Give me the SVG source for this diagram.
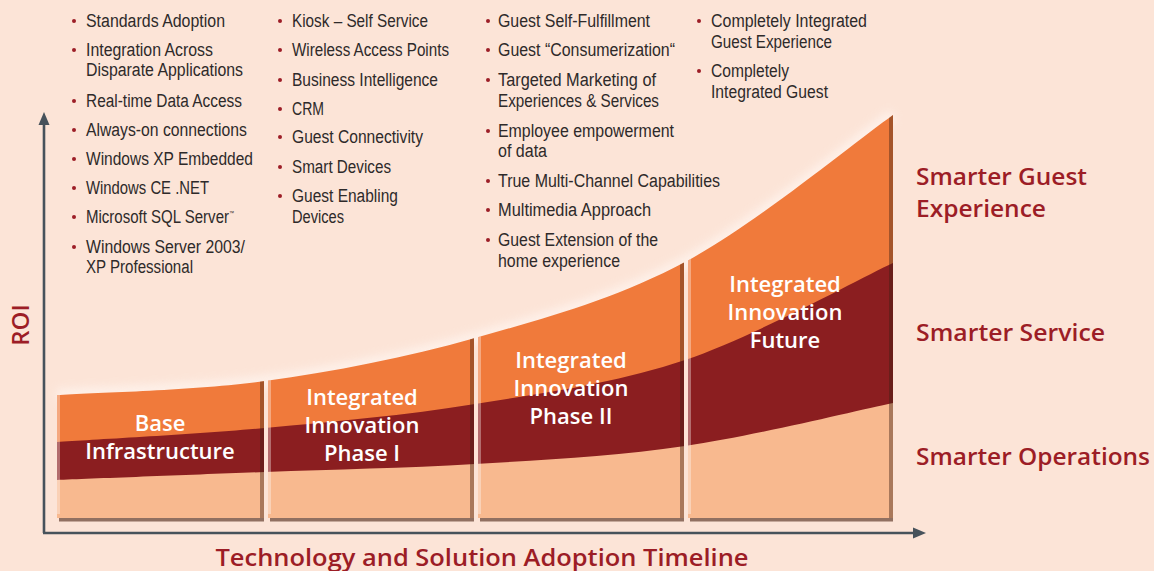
<svg xmlns="http://www.w3.org/2000/svg" width="1154" height="571" viewBox="0 0 1154 571">
  <style>
    .li { font-family: "Liberation Sans", Arial, sans-serif; font-size: 18px; fill: #2e2a2a; }
    .dot { fill: #9c1d26; }
    .phase { font-family: "Open Sans", "Liberation Sans", sans-serif; font-size: 22px; font-weight: 600; fill: #ffffff; text-anchor: middle; }
    .lvl { font-family: "Open Sans", "Liberation Sans", sans-serif; font-size: 24px; font-weight: 600; fill: #9c1d26; }
    .axis { stroke: #47525b; stroke-width: 2.6; fill: none; }
    .head { fill: #47525b; }
    .orange { fill: #f07a3b; }
    .dark { fill: #8b1e20; }
    .light { fill: #f8b98f; }
    .shade { fill: #3c1e12; opacity: 0.42; }
    .hl { fill: #ffffff; opacity: 0.35; }
  </style>
  <defs>
    <!-- Top edge of the ROI curve -->
    <path id="topCurve" d="M57,395 C91.7,392.7 195.3,390.5 265,381 C334.7,371.5 405,357.8 475,338 C545,318.2 615.3,299.2 685,262 C754.7,224.8 858.3,139.5 893,115"/>
    <clipPath id="cols">
      <rect x="57" y="100" width="207" height="418"/>
      <rect x="268" y="100" width="206" height="418"/>
      <rect x="478" y="100" width="206" height="418"/>
      <rect x="688" y="100" width="205" height="418"/>
    </clipPath>
    <clipPath id="area">
      <path d="M57,395 C91.7,392.7 195.3,390.5 265,381 C334.7,371.5 405,357.8 475,338 C545,318.2 615.3,299.2 685,262 C754.7,224.8 858.3,139.5 893,115 L893,523 L57,523 Z"/>
    </clipPath>
    <filter id="soft" x="-10%" y="-10%" width="120%" height="120%">
      <feGaussianBlur stdDeviation="4"/>
    </filter>
  </defs>

  <rect width="1154" height="571" fill="#fce4d7"/>

  <!-- light halo just above the curve -->
  <use href="#topCurve" fill="none" stroke="#fff6f1" stroke-width="12" opacity="0.7" filter="url(#soft)"/>

  <!-- Axes -->
  <g id="connectors">
    <path class="axis" d="M44,533 L44,122"/>
    <polygon class="head" points="44,112 38.5,125 49.5,125"/>
    <path class="axis" d="M43,533 L915,533"/>
    <polygon class="head" points="926,533 913,527.5 913,538.5"/>
  </g>

  <!-- Stacked bands, cut into four phase blocks -->
  <g id="bands" clip-path="url(#cols)">
    <path class="orange" d="M57,395 C91.7,392.7 195.3,390.5 265,381 C334.7,371.5 405,357.8 475,338 C545,318.2 615.3,299.2 685,262 C754.7,224.8 858.3,139.5 893,115 L893,523 L57,523 Z"/>
    <path class="dark" d="M57,442 C91.7,439.7 195.3,434.3 265,428 C334.7,421.7 405,415.3 475,404 C545,392.7 615.3,383.5 685,360 C754.7,336.5 858.3,279.2 893,263 L893,523 L57,523 Z"/>
    <path class="light" d="M57,480 C91.7,478.7 195.3,474.7 265,472 C334.7,469.3 405,468.3 475,464 C545,459.7 615.3,456.2 685,446 C754.7,435.8 858.3,410.2 893,403 L893,523 L57,523 Z"/>
    <g clip-path="url(#area)">
      <rect class="shade" x="260" y="100" width="4" height="418"/>
      <rect class="shade" x="470" y="100" width="4" height="418"/>
      <rect class="shade" x="680" y="100" width="4" height="418"/>
      <rect class="shade" x="889" y="100" width="4" height="418"/>
      <rect class="hl" x="57" y="100" width="3" height="414"/>
      <rect class="hl" x="268" y="100" width="3" height="414"/>
      <rect class="hl" x="478" y="100" width="3" height="414"/>
      <rect class="hl" x="688" y="100" width="3" height="414"/>
    </g>
  </g>
  <!-- bottom ledges -->
  <g fill="#6e4a3a" opacity="0.75">
    <rect x="59" y="518" width="205" height="3.5"/>
    <rect x="270" y="518" width="204" height="3.5"/>
    <rect x="480" y="518" width="204" height="3.5"/>
    <rect x="690" y="518" width="203" height="3.5"/>
  </g>

  <!-- Phase blocks -->
  <g id="phase-base">
    <text class="phase" x="160" y="431">Base</text>
    <text class="phase" x="160" y="459">Infrastructure</text>
  </g>
  <g id="phase-1">
    <text class="phase" x="362" y="405">Integrated</text>
    <text class="phase" x="362" y="433">Innovation</text>
    <text class="phase" x="362" y="461">Phase I</text>
  </g>
  <g id="phase-2">
    <text class="phase" x="571" y="368">Integrated</text>
    <text class="phase" x="571" y="396">Innovation</text>
    <text class="phase" x="571" y="424">Phase II</text>
  </g>
  <g id="phase-future">
    <text class="phase" x="785" y="292">Integrated</text>
    <text class="phase" x="785" y="320">Innovation</text>
    <text class="phase" x="785" y="348">Future</text>
  </g>

  <!-- Feature lists -->
  <g id="list-base">
    <circle class="dot" cx="74" cy="21" r="2"/>
    <circle class="dot" cx="74" cy="50" r="2"/>
    <circle class="dot" cx="74" cy="101" r="2"/>
    <circle class="dot" cx="74" cy="130" r="2"/>
    <circle class="dot" cx="74" cy="159" r="2"/>
    <circle class="dot" cx="74" cy="188" r="2"/>
    <circle class="dot" cx="74" cy="217" r="2"/>
    <circle class="dot" cx="74" cy="247" r="2"/>
    <text class="li" x="86" y="27" textLength="139" lengthAdjust="spacingAndGlyphs">Standards Adoption</text>
    <text class="li" x="86" y="56" textLength="127" lengthAdjust="spacingAndGlyphs">Integration Across</text>
    <text class="li" x="86" y="76" textLength="157" lengthAdjust="spacingAndGlyphs">Disparate Applications</text>
    <text class="li" x="86" y="107" textLength="156" lengthAdjust="spacingAndGlyphs">Real-time Data Access</text>
    <text class="li" x="86" y="136" textLength="161" lengthAdjust="spacingAndGlyphs">Always-on connections</text>
    <text class="li" x="86" y="165" textLength="167" lengthAdjust="spacingAndGlyphs">Windows XP Embedded</text>
    <text class="li" x="86" y="194" textLength="123" lengthAdjust="spacingAndGlyphs">Windows CE .NET</text>
    <text class="li" x="86" y="223" textLength="148" lengthAdjust="spacingAndGlyphs">Microsoft SQL Server<tspan font-size="6px" dy="-8">™</tspan></text>
    <text class="li" x="86" y="253" textLength="159" lengthAdjust="spacingAndGlyphs">Windows Server 2003/</text>
    <text class="li" x="86" y="273" textLength="107" lengthAdjust="spacingAndGlyphs">XP Professional</text>
  </g>
  <g id="list-phase-1">
    <circle class="dot" cx="280" cy="21" r="2"/>
    <circle class="dot" cx="280" cy="50" r="2"/>
    <circle class="dot" cx="280" cy="80" r="2"/>
    <circle class="dot" cx="280" cy="109" r="2"/>
    <circle class="dot" cx="280" cy="137" r="2"/>
    <circle class="dot" cx="280" cy="167" r="2"/>
    <circle class="dot" cx="280" cy="196" r="2"/>
    <text class="li" x="292" y="27" textLength="136" lengthAdjust="spacingAndGlyphs">Kiosk – Self Service</text>
    <text class="li" x="292" y="56" textLength="157" lengthAdjust="spacingAndGlyphs">Wireless Access Points</text>
    <text class="li" x="292" y="86" textLength="146" lengthAdjust="spacingAndGlyphs">Business Intelligence</text>
    <text class="li" x="292" y="115" textLength="32" lengthAdjust="spacingAndGlyphs">CRM</text>
    <text class="li" x="292" y="143" textLength="131" lengthAdjust="spacingAndGlyphs">Guest Connectivity</text>
    <text class="li" x="292" y="173" textLength="99" lengthAdjust="spacingAndGlyphs">Smart Devices</text>
    <text class="li" x="292" y="202" textLength="106" lengthAdjust="spacingAndGlyphs">Guest Enabling</text>
    <text class="li" x="292" y="223" textLength="52" lengthAdjust="spacingAndGlyphs">Devices</text>
  </g>
  <g id="list-phase-2">
    <circle class="dot" cx="488" cy="21" r="2"/>
    <circle class="dot" cx="488" cy="50" r="2"/>
    <circle class="dot" cx="488" cy="80" r="2"/>
    <circle class="dot" cx="488" cy="131" r="2"/>
    <circle class="dot" cx="488" cy="181" r="2"/>
    <circle class="dot" cx="488" cy="210" r="2"/>
    <circle class="dot" cx="488" cy="240" r="2"/>
    <text class="li" x="498" y="27" textLength="152" lengthAdjust="spacingAndGlyphs">Guest Self-Fulfillment</text>
    <text class="li" x="498" y="56" textLength="177" lengthAdjust="spacingAndGlyphs">Guest “Consumerization“</text>
    <text class="li" x="498" y="86" textLength="158" lengthAdjust="spacingAndGlyphs">Targeted Marketing of</text>
    <text class="li" x="498" y="107" textLength="161" lengthAdjust="spacingAndGlyphs">Experiences &amp; Services</text>
    <text class="li" x="498" y="137" textLength="176" lengthAdjust="spacingAndGlyphs">Employee empowerment</text>
    <text class="li" x="498" y="157" textLength="49" lengthAdjust="spacingAndGlyphs">of data</text>
    <text class="li" x="498" y="187" textLength="222" lengthAdjust="spacingAndGlyphs">True Multi-Channel Capabilities</text>
    <text class="li" x="498" y="216" textLength="153" lengthAdjust="spacingAndGlyphs">Multimedia Approach</text>
    <text class="li" x="498" y="246" textLength="160" lengthAdjust="spacingAndGlyphs">Guest Extension of the</text>
    <text class="li" x="498" y="267" textLength="122" lengthAdjust="spacingAndGlyphs">home experience</text>
  </g>
  <g id="list-future">
    <circle class="dot" cx="699" cy="21" r="2"/>
    <circle class="dot" cx="699" cy="71" r="2"/>
    <text class="li" x="711" y="27" textLength="156" lengthAdjust="spacingAndGlyphs">Completely Integrated</text>
    <text class="li" x="711" y="48" textLength="121" lengthAdjust="spacingAndGlyphs">Guest Experience</text>
    <text class="li" x="711" y="77" textLength="78" lengthAdjust="spacingAndGlyphs">Completely</text>
    <text class="li" x="711" y="98" textLength="117" lengthAdjust="spacingAndGlyphs">Integrated Guest</text>
  </g>

  <!-- Level labels on the right -->
  <g id="level-guest">
    <text class="lvl" x="916" y="185" textLength="171" lengthAdjust="spacingAndGlyphs">Smarter Guest</text>
    <text class="lvl" x="916" y="217" textLength="130" lengthAdjust="spacingAndGlyphs">Experience</text>
  </g>
  <g id="level-service">
    <text class="lvl" x="916" y="341" textLength="189" lengthAdjust="spacingAndGlyphs">Smarter Service</text>
  </g>
  <g id="level-operations">
    <text class="lvl" x="916" y="465" textLength="234" lengthAdjust="spacingAndGlyphs">Smarter Operations</text>
  </g>

  <!-- Axis titles -->
  <g id="axis-titles">
    <text class="lvl" x="482" y="566" text-anchor="middle" textLength="533" lengthAdjust="spacingAndGlyphs">Technology and Solution Adoption Timeline</text>
    <text class="lvl" transform="translate(29,325) rotate(-90)" x="0" y="0" text-anchor="middle" font-size="24px" font-weight="700">ROI</text>
  </g>
</svg>
